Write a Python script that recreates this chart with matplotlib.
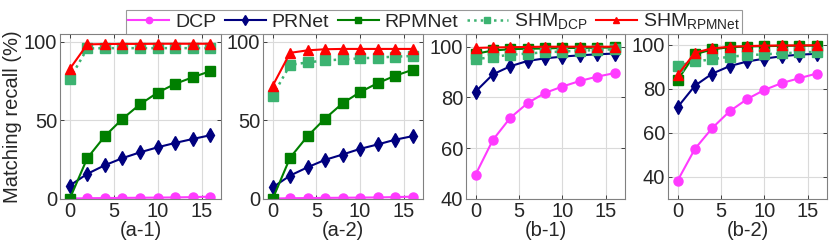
import matplotlib
matplotlib.use("Agg")
import matplotlib.pyplot as plt

plt.rcParams['font.family'] = ['Liberation Sans', 'DejaVu Sans']

x = [0, 2, 4, 6, 8, 10, 12, 14, 16]
methods = ["DCP", "PRNet", "RPMNet", "SHM_DCP", "SHM_RPMNet"]
labels = ["DCP", "PRNet", "RPMNet", r"SHM$_{\mathregular{DCP}}$", r"SHM$_{\mathregular{RPMNet}}$"]

a1 = {
    "DCP":        [0.3, 0.5, 0.6, 0.7, 0.8, 0.9, 1.0, 1.2, 1.5],
    "PRNet":      [8.5, 16.0, 21.5, 26.0, 29.7, 32.9, 35.7, 38.2, 40.6],
    "RPMNet":     [0.0, 26.0, 40.0, 51.0, 60.3, 67.7, 73.3, 77.5, 81.4],
    "SHM_DCP":    [76.3, 95.8, 96.0, 96.0, 96.0, 96.0, 96.0, 96.0, 96.0],
    "SHM_RPMNet": [82.7, 98.4, 98.6, 98.7, 98.7, 98.8, 98.8, 98.8, 98.8],
}
a2 = {
    "DCP":        [0.3, 0.5, 0.6, 0.7, 0.8, 0.9, 1.0, 1.2, 1.5],
    "PRNet":      [7.4, 14.9, 20.2, 24.9, 28.3, 31.9, 34.7, 37.7, 40.0],
    "RPMNet":     [0.0, 26.3, 40.0, 51.2, 60.9, 68.0, 73.7, 78.4, 82.2],
    "SHM_DCP":    [65.6, 85.4, 86.9, 88.2, 88.8, 89.5, 90.0, 90.6, 91.0],
    "SHM_RPMNet": [72.0, 93.0, 94.6, 95.3, 95.5, 95.5, 95.5, 95.5, 95.5],
}
b1 = {
    "DCP":        [49.6, 63.3, 72.0, 77.8, 81.8, 84.3, 86.5, 88.2, 89.6],
    "PRNet":      [82.3, 89.1, 92.3, 94.4, 95.4, 96.1, 96.6, 97.0, 97.3],
    "RPMNet":     [97.2, 98.5, 99.0, 99.2, 99.3, 99.5, 99.5, 99.6, 99.7],
    "SHM_DCP":    [95.0, 96.0, 96.8, 97.3, 97.8, 98.1, 98.4, 98.7, 99.0],
    "SHM_RPMNet": [99.5, 99.7, 99.8, 99.9, 100.0, 100.0, 100.0, 100.0, 100.0],
}
b2 = {
    "DCP":        [38.3, 52.8, 62.3, 69.9, 75.4, 79.6, 82.7, 84.9, 87.0],
    "PRNet":      [71.7, 81.5, 87.0, 90.4, 92.5, 93.8, 94.9, 95.6, 96.0],
    "RPMNet":     [84.0, 95.8, 98.0, 99.0, 99.3, 99.5, 99.6, 99.7, 99.7],
    "SHM_DCP":    [90.5, 92.5, 93.5, 94.7, 95.3, 95.8, 96.2, 96.6, 96.9],
    "SHM_RPMNet": [86.3, 96.5, 98.5, 99.2, 99.5, 99.7, 99.8, 99.8, 99.9],
}
panels = [("(a-1)", a1, (0, 105), [0, 50, 100]),
          ("(a-2)", a2, (0, 105), [0, 50, 100]),
          ("(b-1)", b1, (40, 105), [40, 60, 80, 100]),
          ("(b-2)", b2, (30, 105), [40, 60, 80, 100])]

styles = {
    "DCP":        dict(color="#FF3BFF", marker="o", ls="-", ms=6.5, lw=1.5),
    "PRNet":      dict(color="#00007F", marker="d", ls="-", ms=7, lw=1.5),
    "RPMNet":     dict(color="#007F00", marker="s", ls="-", ms=6.5, lw=1.5),
    "SHM_DCP":    dict(color="#3CB371", marker="s", ls=":", ms=7, lw=1.8),
    "SHM_RPMNet": dict(color="#FF0000", marker="^", ls="-", ms=6.5, lw=1.5),
}
order = ["DCP", "PRNet", "RPMNet", "SHM_DCP", "SHM_RPMNet"]

W, H = 831, 241
fig = plt.figure(figsize=(W / 100, H / 100), dpi=100)
lefts = [60, 263, 466, 668]
widths = [161, 160, 159, 159]
top, bottom = 34, 199
handles = []
for i, (lab, data, ylim, yt) in enumerate(panels):
    ax = fig.add_axes([lefts[i] / W, 1 - bottom / H, widths[i] / W, (bottom - top) / H])
    for m in order:
        st = styles[m]
        h, = ax.plot(x, data[m], color=st["color"], marker=st["marker"], ls=st["ls"],
                     ms=st["ms"], lw=st["lw"], mec=st["color"], mfc=st["color"])
        if i == 0:
            handles.append(h)
    ax.set_xlim(-1.1, 17.2)
    ax.set_ylim(*ylim)
    ax.set_xticks([0, 5, 10, 15])
    ax.set_yticks(yt)
    ax.grid(True, color="#DADADA", lw=0.8)
    ax.set_axisbelow(True)
    ax.tick_params(direction="in", top=True, right=True, labelsize=14.5,
                   colors="#262626", length=3, width=0.6, pad=2)
    for s in ax.spines.values():
        s.set_color("#808080")
        s.set_linewidth(0.8)
    ax.set_xlabel(lab, fontsize=14.5, color="#262626", labelpad=0)
    if i == 0:
        ax.set_ylabel("Matching recall (%)", fontsize=14.5, color="#262626", labelpad=1)

leg = fig.legend(handles, labels, loc="upper center", ncol=5,
                 bbox_to_anchor=(434 / W, 1.0), fontsize=14,
                 frameon=True, fancybox=False, edgecolor="#808080",
                 handlelength=2.1, handletextpad=0.3, columnspacing=0.45,
                 borderpad=0.1, markerscale=0.7)
leg.get_frame().set_linewidth(0.8)
for t in leg.get_texts():
    t.set_color("#262626")

fig.savefig("out.png", dpi=100)
